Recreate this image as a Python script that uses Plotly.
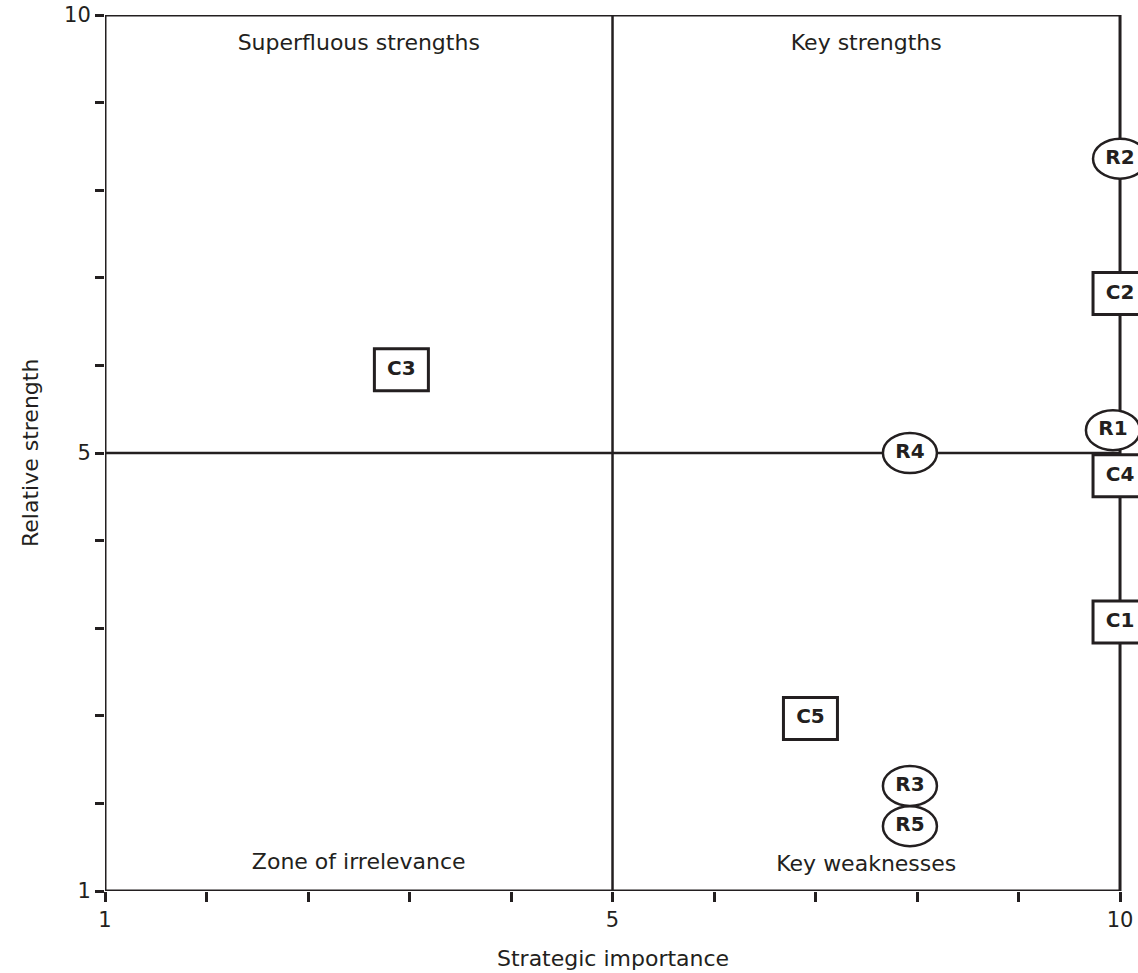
import plotly.graph_objects as go

# Axis positions 0..10 map to tick labels
tick_positions = list(range(11))
x_tick_text = ["1", "", "", "", "", "5", "", "", "", "", "10"]
y_tick_text = ["1", "", "", "", "", "5", "", "", "", "", "10"]

# Items (positions along the axis scale)
r_labels = ["R1", "R2", "R3", "R4", "R5"]
r_x = [9.93, 10.0, 7.93, 7.93, 7.93]
r_y = [5.26, 8.36, 1.20, 5.0, 0.74]

c_labels = ["C1", "C2", "C3", "C4", "C5"]
c_x = [10.0, 10.0, 2.92, 10.0, 6.95]
c_y = [3.07, 6.82, 5.95, 4.74, 1.97]

quad_labels = ["Superfluous strengths", "Key strengths", "Zone of irrelevance", "Key weaknesses"]
quad_x = [2.5, 7.5, 2.5, 7.5]
quad_y = [9.66, 9.66, 0.31, 0.29]

DARK = "#231f20"
FONT = "DejaVu Sans"
FS = 22

fig = go.Figure()

shapes = []
line_style = dict(color=DARK, width=3)
shapes.append(dict(type="line", xref="x", yref="y", x0=0, x1=0, y0=0, y1=10, line=line_style, layer="below"))
shapes.append(dict(type="line", xref="x", yref="y", x0=0, x1=10, y0=0, y1=0, line=line_style, layer="below"))
shapes.append(dict(type="line", xref="x", yref="y", x0=0, x1=10, y0=10, y1=10, line=line_style, layer="below"))
shapes.append(dict(type="line", xref="x", yref="y", x0=10, x1=10, y0=0, y1=10, line=line_style, layer="below"))
shapes.append(dict(type="line", xref="x", yref="y", x0=5, x1=5, y0=0, y1=10, line=dict(color=DARK, width=2.5), layer="below"))
shapes.append(dict(type="line", xref="x", yref="y", x0=0, x1=10, y0=5, y1=5, line=dict(color=DARK, width=2.5), layer="below"))

for x, y in zip(r_x, r_y):
    shapes.append(dict(type="circle", xref="x", yref="y", xsizemode="pixel", ysizemode="pixel",
                       xanchor=x, yanchor=y, x0=-27, x1=27, y0=-20, y1=20,
                       fillcolor="white", line=dict(color=DARK, width=2.5), layer="below"))
for x, y in zip(c_x, c_y):
    shapes.append(dict(type="rect", xref="x", yref="y", xsizemode="pixel", ysizemode="pixel",
                       xanchor=x, yanchor=y, x0=-27, x1=27, y0=-21, y1=21,
                       fillcolor="white", line=dict(color=DARK, width=3), layer="below"))

fig.add_trace(go.Scatter(x=r_x + c_x, y=r_y + c_y, mode="text",
                         text=[f"<b>{t}</b>" for t in r_labels + c_labels],
                         textposition="middle center",
                         textfont=dict(family=FONT, size=20, color=DARK),
                         cliponaxis=False, hoverinfo="skip", showlegend=False))

fig.add_trace(go.Scatter(x=quad_x, y=quad_y, mode="text", text=quad_labels,
                         textposition="middle center",
                         textfont=dict(family=FONT, size=FS, color=DARK),
                         cliponaxis=False, hoverinfo="skip", showlegend=False))

annotations = [
    dict(text="Strategic importance", x=5, xref="x", xanchor="center", y=0, yref="paper",
         yanchor="middle", yshift=-67, showarrow=False, font=dict(family=FONT, size=FS, color=DARK)),
    dict(text="Relative strength", x=0, xref="paper", xanchor="center", xshift=-75, y=5, yref="y",
         yanchor="middle", textangle=-90, showarrow=False, font=dict(family=FONT, size=FS, color=DARK)),
]

fig.update_layout(
    width=1138, height=973,
    margin=dict(l=105, r=0, t=15, b=82),
    paper_bgcolor="white", plot_bgcolor="white",
    shapes=shapes, annotations=annotations, showlegend=False,
    font=dict(family=FONT, size=FS, color=DARK),
)
fig.update_xaxes(range=[0, 10.177], tickvals=tick_positions, ticktext=x_tick_text,
                 ticks="outside", ticklen=10, tickwidth=3, tickcolor=DARK,
                 showline=False, showgrid=False, zeroline=False,
                 tickfont=dict(family=FONT, size=21, color=DARK))
fig.update_yaxes(range=[0, 10], tickvals=tick_positions, ticktext=y_tick_text,
                 ticks="outside", ticklen=9, tickwidth=3, tickcolor=DARK,
                 showline=False, showgrid=False, zeroline=False,
                 tickfont=dict(family=FONT, size=21, color=DARK))

fig.write_html("out.html", config={"displayModeBar": False},
               post_script="document.body.style.margin='0';")
